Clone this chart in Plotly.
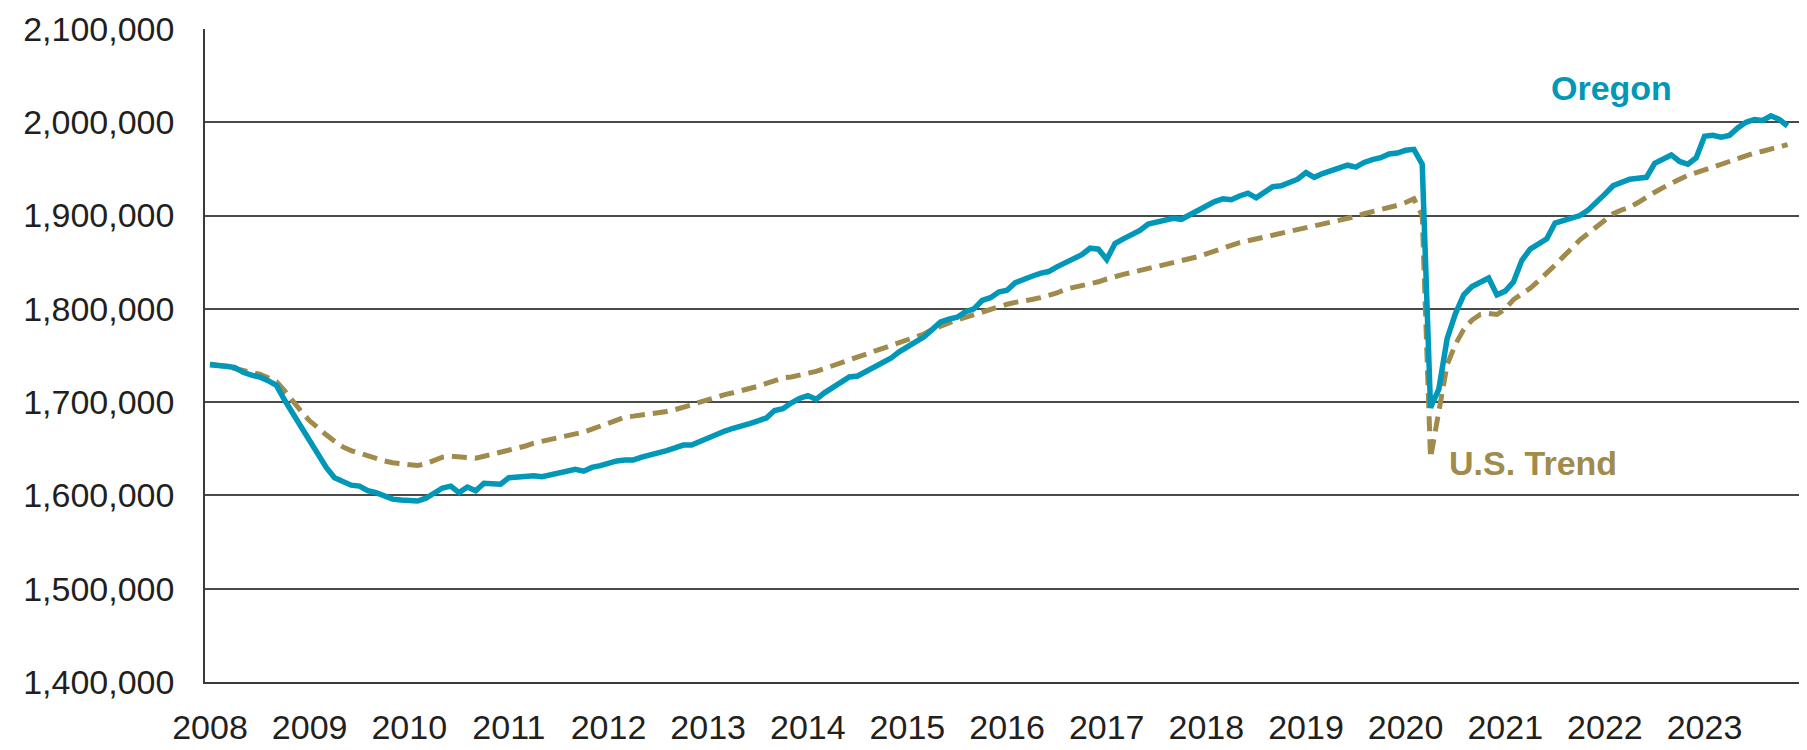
import plotly.graph_objects as go

# Monthly nonfarm employment, Jan 2008 - Nov 2023 (thousands)
oregon_k = [
    1740, 1739.5, 1738.5, 1737, 1732, 1729, 1727, 1723, 1718, 1702, 1688, 1674,   # 2008
    1660, 1646, 1630, 1619, 1615, 1611, 1610, 1605, 1603, 1599, 1596, 1595,       # 2009
    1594.5, 1594, 1597, 1602, 1608, 1610, 1603, 1609, 1605, 1613, 1613, 1612,     # 2010
    1619, 1620, 1621, 1621, 1620, 1622, 1625, 1627, 1628, 1626, 1630, 1632,       # 2011
    1635, 1637, 1638, 1638, 1641, 1643, 1645, 1648, 1651, 1654, 1654, 1658,       # 2012
    1661, 1665, 1669, 1672, 1674, 1677, 1680, 1683, 1691, 1693, 1699, 1704,       # 2013
    1707, 1703, 1710, 1716, 1721, 1727, 1728, 1733, 1738, 1742, 1747, 1754,       # 2014
    1759, 1764, 1770, 1778, 1786, 1789, 1791, 1797, 1800, 1809, 1812, 1818,       # 2015
    1820, 1828, 1832, 1835, 1838, 1840, 1845, 1849, 1854, 1858, 1865, 1864,       # 2016
    1853, 1870, 1875, 1880, 1884, 1891, 1893, 1895, 1897, 1896, 1901, 1905,       # 2017
    1911, 1915, 1918, 1917, 1921, 1924, 1919, 1925, 1931, 1932, 1936, 1939,       # 2018
    1946, 1941, 1945, 1948, 1952, 1954, 1952, 1957, 1960, 1962, 1966, 1967,       # 2019
    1970, 1971, 1955, 1694, 1714, 1768, 1795, 1815, 1824, 1828, 1833, 1815,       # 2020
    1819, 1829, 1852, 1864, 1869, 1875, 1892, 1895, 1897, 1900, 1906, 1914,       # 2021
    1923, 1932, 1936, 1939, 1940, 1941, 1956, 1961, 1965, 1958, 1955, 1962,       # 2022
    1985, 1986, 1984, 1986, 1994, 2000, 2003, 2002, 2007, 2003, 1996,             # 2023
]

us_trend_k = [
    1741, 1740, 1738, 1736, 1734, 1732, 1730, 1726, 1722, 1712, 1700, 1690,       # 2008
    1680, 1672, 1665, 1658, 1652, 1648, 1645, 1642, 1639, 1637, 1635, 1634,       # 2009
    1633, 1632, 1634, 1638, 1641, 1642, 1641, 1640, 1640, 1642, 1644, 1646,       # 2010
    1648, 1650, 1653, 1656, 1658, 1660, 1661, 1663, 1665, 1668, 1671, 1674,       # 2011
    1678, 1681, 1684, 1685, 1686, 1688, 1689, 1690, 1692, 1694, 1697, 1700,       # 2012
    1703, 1706, 1708, 1710, 1712, 1714, 1717, 1720, 1723, 1726, 1727, 1729,       # 2013
    1730, 1733, 1736, 1739, 1742, 1745, 1748, 1751, 1754, 1757, 1760, 1763,       # 2014
    1766, 1769, 1773, 1778, 1782, 1785, 1788, 1791, 1794, 1797, 1800, 1803,       # 2015
    1805, 1807, 1808, 1810, 1812, 1814, 1817, 1821, 1823, 1825, 1826, 1829,       # 2016
    1832, 1835, 1837, 1839, 1841, 1844, 1846, 1848, 1849, 1851, 1853, 1856,       # 2017
    1859, 1862, 1866, 1869, 1871, 1873, 1875, 1877, 1878, 1880, 1882, 1884,       # 2018
    1887, 1888, 1890, 1892, 1894, 1896, 1899, 1902, 1904, 1906, 1908, 1911,       # 2019
    1914, 1918, 1900, 1640, 1690, 1740, 1762, 1778, 1788, 1794, 1795, 1794,       # 2020
    1800, 1810, 1816, 1822, 1830, 1838, 1847, 1856, 1865, 1874, 1881, 1888,       # 2021
    1895, 1902, 1906, 1909, 1914, 1920, 1925, 1930, 1935, 1939, 1943, 1946,       # 2022
    1950, 1953, 1956, 1959, 1961, 1964, 1967, 1969, 1971, 1973, 1976,             # 2023
]

year_labels = [str(y) for y in range(2008, 2024)]
y_ticks = list(range(1400000, 2100001, 100000))

months = list(range(len(oregon_k)))
oregon = [v * 1000 for v in oregon_k]
us_trend = [v * 1000 for v in us_trend_k]

TEXT = "#231F20"
FONT = "Liberation Sans, Arial, sans-serif"

fig = go.Figure()
fig.add_trace(go.Scatter(
    x=months, y=us_trend, mode="lines", name="U.S. Trend",
    line=dict(color="#A08B4C", width=5, dash="15px,8px"),
))
fig.add_trace(go.Scatter(
    x=months, y=oregon, mode="lines", name="Oregon",
    line=dict(color="#0097B9", width=5.5),
))

fig.add_annotation(x=168.8, y=2037000, text="<b>Oregon</b>", showarrow=False,
                   font=dict(family=FONT, size=34, color="#0097B9"),
                   xanchor="center", yanchor="middle")
fig.add_annotation(x=159.3, y=1635000, text="<b>U.S. Trend</b>", showarrow=False,
                   font=dict(family=FONT, size=34, color="#A08B4C"),
                   xanchor="center", yanchor="middle")

fig.add_shape(type="line", xref="paper", yref="paper", x0=1, x1=1, y0=0, y1=1,
              line=dict(color="#8C8C8C", width=1.5))

fig.update_layout(
    width=1799, height=742,
    margin=dict(l=197, r=7, t=21, b=68),
    paper_bgcolor="white", plot_bgcolor="white",
    showlegend=False,
    font=dict(family=FONT, size=34, color=TEXT),
    xaxis=dict(
        range=[-0.6, 191.5],
        tickmode="array",
        tickvals=[12 * i for i in range(len(year_labels))],
        ticktext=year_labels,
        showgrid=False, zeroline=False, automargin=False,
        showline=True, linecolor="#3A3A3A", linewidth=1.5,
        ticks="", ticklabelstandoff=14, ticklabeloverflow="allow",
        tickfont=dict(family=FONT, size=34, color=TEXT),
    ),
    yaxis=dict(
        range=[1400000, 2100000],
        tickmode="array",
        tickvals=y_ticks,
        ticktext=[f"{v:,}" for v in y_ticks],
        showgrid=True, gridcolor="#4A4A4A", gridwidth=1.5,
        zeroline=False, automargin=False,
        showline=True, linecolor="#3A3A3A", linewidth=1.5,
        ticks="", ticklabelstandoff=22, ticklabeloverflow="allow",
        tickfont=dict(family=FONT, size=34, color=TEXT),
    ),
)

fig.write_html("out.html")
